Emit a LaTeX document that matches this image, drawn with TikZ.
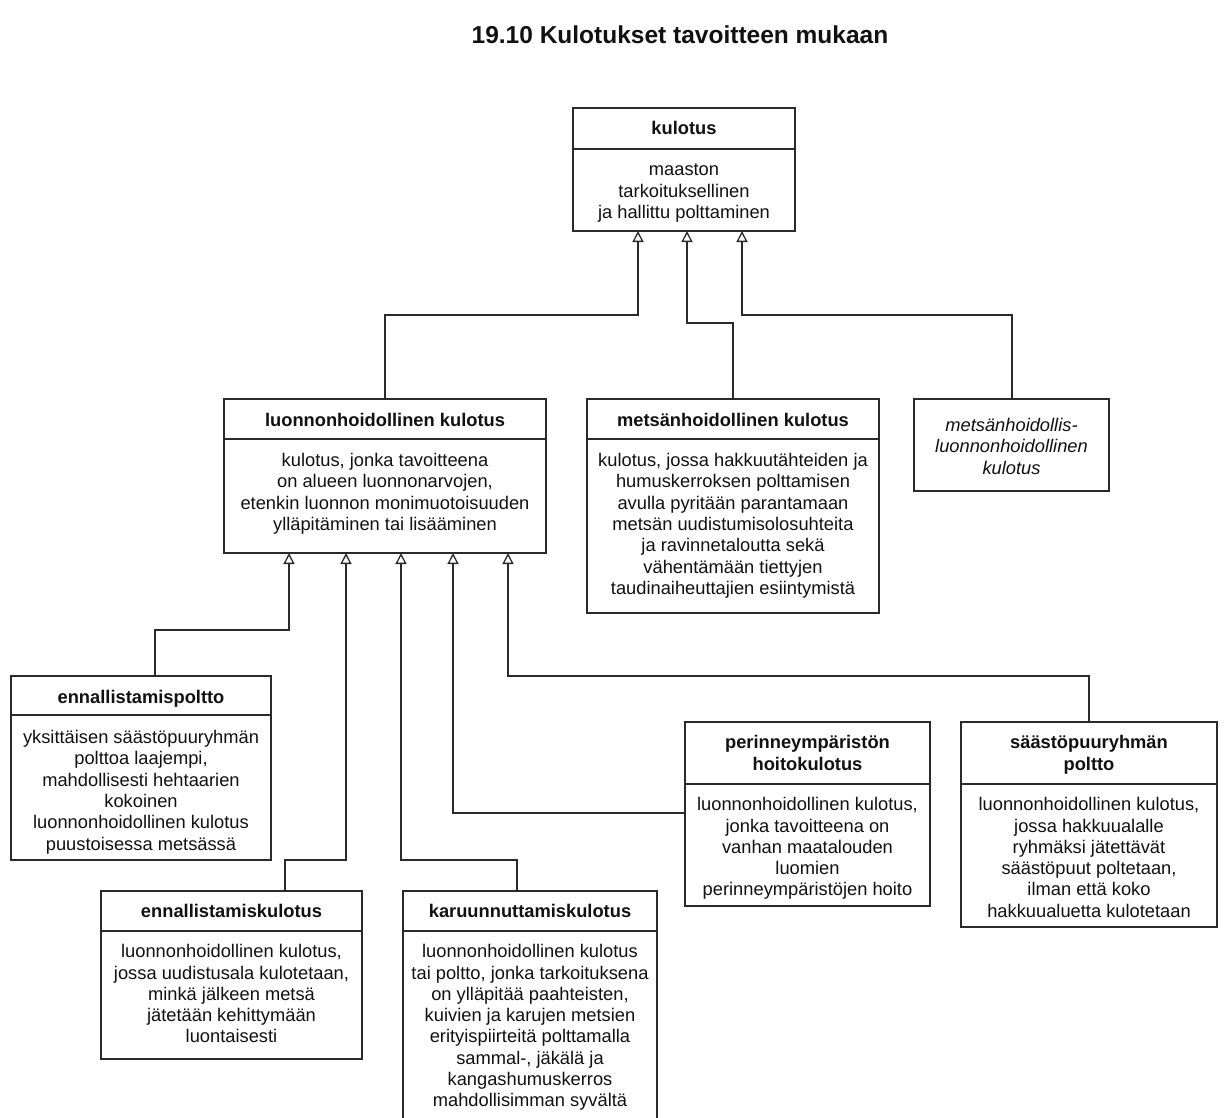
\documentclass[tikz,border=0pt]{standalone}
\usepackage{fontspec}
\setmainfont{Liberation Sans}
\usetikzlibrary{arrows.meta}
\definecolor{lc}{HTML}{2A2A2A}
\definecolor{tc}{HTML}{111111}
\begin{document}
\begin{tikzpicture}[x=1pt,y=-1pt,
  cls/.style 2 args={draw=lc, line width=1.3pt, anchor=north west, inner sep=0pt, outer sep=0pt, minimum width=#1, minimum height=#2},
  hd/.style={anchor=north, inner sep=0pt, align=center, text=tc, font=\fontsize{18.3}{21.3}\selectfont\bfseries},
  bd/.style={anchor=north, inner sep=0pt, align=center, text=tc, font=\fontsize{18.3}{21.3}\selectfont},
  it/.style={anchor=north, inner sep=0pt, align=center, text=tc, font=\fontsize{18.3}{21.3}\selectfont\itshape},
  sep/.style={draw=lc, line width=1.3pt},
  inh/.style={draw=lc, line width=1.3pt, -{Triangle[fill=white, length=11pt, width=11pt]}}]
\clip (0,0) rectangle (1224,1117);
\fill[white] (0,0) rectangle (1224,1117);

\node[anchor=base, inner sep=0pt, text=tc, font=\fontsize{24.5}{28}\selectfont\bfseries] (title) at (680,43) {19.10 Kulotukset tavoitteen mukaan};

% kulotus
\node[cls={222pt}{123pt}] (kul) at (573,108) {};
\node[hd] (kulh) at ([yshift=-11.6pt]kul.north) {\strut kulotus};
\draw[sep] ([yshift=-41pt]kul.north west) -- ([yshift=-41pt]kul.north east);
\node[bd] (kulb) at ([yshift=-52.6pt]kul.north) {\strut maaston\\tarkoituksellinen\\ja hallittu polttaminen};

% luonnonhoidollinen kulotus
\node[cls={322pt}{154pt}] (luon) at (224,399) {};
\node[hd] (luonh) at ([yshift=-12.4pt]luon.north) {\strut luonnonhoidollinen kulotus};
\draw[sep] ([yshift=-40pt]luon.north west) -- ([yshift=-40pt]luon.north east);
\node[bd] (luonb) at ([yshift=-52.4pt]luon.north) {\strut kulotus, jonka tavoitteena\\on alueen luonnonarvojen,\\etenkin luonnon monimuotoisuuden\\ylläpitäminen tai lisääminen};

% metsänhoidollinen kulotus
\node[cls={292pt}{214pt}] (mets) at (587,399) {};
\node[hd] (metsh) at ([yshift=-12.4pt]mets.north) {\strut metsänhoidollinen kulotus};
\draw[sep] ([yshift=-40pt]mets.north west) -- ([yshift=-40pt]mets.north east);
\node[bd] (metsb) at ([yshift=-52.4pt]mets.north) {\strut kulotus, jossa hakkuutähteiden ja\\humuskerroksen polttamisen\\avulla pyritään parantamaan\\metsän uudistumisolosuhteita\\ja ravinnetaloutta sekä\\vähentämään tiettyjen\\taudinaiheuttajien esiintymistä};

% metsänhoidollis-luonnonhoidollinen kulotus
\node[cls={195pt}{92pt}] (mlh) at (914,399) {};
\node[it] (mlht) at ([yshift=-17.4pt]mlh.north) {\strut metsänhoidollis-\\luonnonhoidollinen\\kulotus};

% ennallistamispoltto
\node[cls={260pt}{184pt}] (ep) at (11,676) {};
\node[hd] (eph) at ([yshift=-12.4pt]ep.north) {\strut ennallistamispoltto};
\draw[sep] ([yshift=-39pt]ep.north west) -- ([yshift=-39pt]ep.north east);
\node[bd] (epb) at ([yshift=-52.4pt]ep.north) {\strut yksittäisen säästöpuuryhmän\\polttoa laajempi,\\mahdollisesti hehtaarien\\kokoinen\\luonnonhoidollinen kulotus\\puustoisessa metsässä};

% ennallistamiskulotus
\node[cls={261pt}{168pt}] (ek) at (101,891) {};
\node[hd] (ekh) at ([yshift=-11.6pt]ek.north) {\strut ennallistamiskulotus};
\draw[sep] ([yshift=-40pt]ek.north west) -- ([yshift=-40pt]ek.north east);
\node[bd] (ekb) at ([yshift=-51.6pt]ek.north) {\strut luonnonhoidollinen kulotus,\\jossa uudistusala kulotetaan,\\minkä jälkeen metsä\\jätetään kehittymään\\luontaisesti};

% karuunnuttamiskulotus
\node[cls={254pt}{240pt}] (karu) at (403,891) {};
\node[hd] (karuh) at ([yshift=-11.6pt]karu.north) {\strut karuunnuttamiskulotus};
\draw[sep] ([yshift=-40pt]karu.north west) -- ([yshift=-40pt]karu.north east);
\node[bd] (karub) at ([yshift=-51.6pt]karu.north) {\strut luonnonhoidollinen kulotus\\tai poltto, jonka tarkoituksena\\on ylläpitää paahteisten,\\kuivien ja karujen metsien\\erityispiirteitä polttamalla\\sammal-, jäkälä ja\\kangashumuskerros\\mahdollisimman syvältä};

% perinneympäristön hoitokulotus
\node[cls={245pt}{184pt}] (per) at (685,722) {};
\node[hd] (perh) at ([yshift=-11.6pt]per.north) {\strut perinneympäristön\\hoitokulotus};
\draw[sep] ([yshift=-62pt]per.north west) -- ([yshift=-62pt]per.north east);
\node[bd] (perb) at ([yshift=-73.6pt]per.north) {\strut luonnonhoidollinen kulotus,\\jonka tavoitteena on\\vanhan maatalouden\\luomien\\perinneympäristöjen hoito};

% säästöpuuryhmän poltto
\node[cls={256pt}{205pt}] (sp) at (961,722) {};
\node[hd] (sph) at ([yshift=-11.6pt]sp.north) {\strut säästöpuuryhmän\\poltto};
\draw[sep] ([yshift=-62pt]sp.north west) -- ([yshift=-62pt]sp.north east);
\node[bd] (spb) at ([yshift=-73.6pt]sp.north) {\strut luonnonhoidollinen kulotus,\\jossa hakkuualalle\\ryhmäksi jätettävät\\säästöpuut poltetaan,\\ilman että koko\\hakkuualuetta kulotetaan};

% connectors to kulotus
\draw[inh] ([xshift=161pt]luon.north west) -- ++(0,-84) -| ([xshift=65pt]kul.south west);
\draw[inh] ([xshift=146pt]mets.north west) -- ++(0,-76) -| ([xshift=114pt]kul.south west);
\draw[inh] ([xshift=98pt]mlh.north west) -- ++(0,-84) -| ([xshift=169pt]kul.south west);

% connectors to luonnonhoidollinen kulotus
\draw[inh] ([xshift=144pt]ep.north west) -- ++(0,-46) -| ([xshift=65pt]luon.south west);
\draw[inh] ([xshift=184pt]ek.north west) -- ++(0,-31) -| ([xshift=122pt]luon.south west);
\draw[inh] ([xshift=114pt]karu.north west) -- ++(0,-31) -| ([xshift=177pt]luon.south west);
\draw[inh] ([yshift=-91pt]per.north west) -| ([xshift=229pt]luon.south west);
\draw[inh] ([xshift=128pt]sp.north west) -- ++(0,-46) -| ([xshift=284pt]luon.south west);
\end{tikzpicture}
\end{document}
